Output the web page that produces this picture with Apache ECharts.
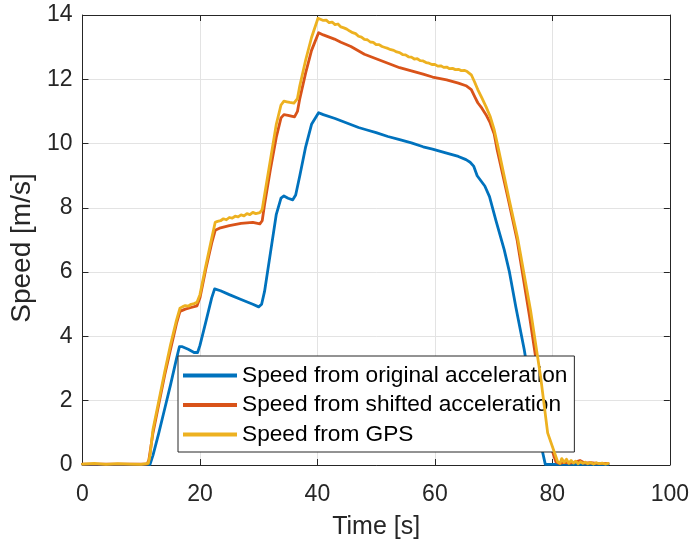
<!DOCTYPE html>
<html>
<head>
<meta charset="utf-8">
<script src="https://cdn.jsdelivr.net/npm/echarts@6/dist/echarts.min.js"></script>
<style>
  html, body { margin: 0; padding: 0; background: #fff; }
  #chart { width: 692px; height: 545px; }
</style>
</head>
<body>
<div id="chart"></div>
<script>
// Speed traces over time [s] -> [m/s]
const seriesNames = [
  'Speed from original acceleration',
  'Speed from shifted acceleration',
  'Speed from GPS'
];
const xTicks = [0, 20, 40, 60, 80, 100];
const yTicks = [0, 2, 4, 6, 8, 10, 12, 14];

const timeOriginal = [0, 5, 11.5, 12, 13, 14, 15, 16, 16.5, 17, 18, 19, 19.6, 20, 21, 22, 22.5, 23.5, 25, 27, 29, 30, 30.5, 31, 32, 33, 33.8, 34.3, 35, 35.8, 36.3, 37, 38, 39, 40.2, 41, 43, 45, 47, 48.3, 50, 52, 54, 56, 58, 59.6, 62, 64, 65.3, 66, 66.6, 67.2, 67.8, 68.5, 69.3, 70.4, 71.8, 72.7, 73.8, 75.2, 76.6, 78.1, 78.8, 81, 85, 89.5];
const speedOriginal = [0.02, 0.02, 0.02, 0.3, 1.0, 1.75, 2.5, 3.3, 3.68, 3.68, 3.6, 3.5, 3.5, 3.72, 4.45, 5.2, 5.48, 5.42, 5.3, 5.15, 5.0, 4.92, 5.0, 5.4, 6.6, 7.8, 8.3, 8.37, 8.3, 8.25, 8.4, 9.0, 9.9, 10.6, 10.96, 10.9, 10.78, 10.64, 10.5, 10.43, 10.34, 10.22, 10.12, 10.02, 9.9, 9.83, 9.7, 9.6, 9.5, 9.42, 9.3, 9.0, 8.85, 8.68, 8.35, 7.6, 6.7, 6.0, 4.9, 3.6, 2.05, 0.6, 0.02, 0.02, 0.02, 0.02];

const timeShifted = [0, 5, 11, 11.3, 12, 13, 14, 15, 16, 16.6, 17.5, 18.5, 19.5, 20, 21, 22, 22.6, 23.5, 25, 27, 29, 30.2, 30.6, 31, 32, 33, 33.8, 34.3, 35, 36.1, 36.6, 37, 38, 39, 40.2, 41, 42.9, 44, 45.7, 48, 50, 52, 54, 56, 58, 59.6, 62, 64, 65.3, 66.2, 66.8, 67.3, 68, 68.7, 69.4, 70.1, 70.6, 72.5, 74, 76.1, 77.8, 79, 80.6, 81.2, 82, 83, 84, 84.7, 85.5, 86.5, 88, 89.5];
const speedShifted = [0.03, 0.03, 0.03, 0.15, 1.0, 1.9, 2.8, 3.6, 4.4, 4.78, 4.85, 4.9, 4.95, 5.2, 6.1, 6.9, 7.3, 7.38, 7.45, 7.52, 7.55, 7.5, 7.6, 8.1, 9.2, 10.2, 10.8, 10.9, 10.88, 10.83, 11.0, 11.4, 12.2, 12.9, 13.45, 13.38, 13.25, 13.15, 13.02, 12.78, 12.64, 12.5, 12.36, 12.26, 12.16, 12.07, 11.98, 11.88, 11.8, 11.68, 11.45, 11.27, 11.1, 10.9, 10.65, 10.3, 9.81, 8.26, 7.0, 4.64, 2.57, 1.0, 0.1, 0.05, 0.08, 0.06, 0.1, 0.14, 0.06, 0.07, 0.04, 0.05];

const timeGps = [0, 2, 4, 6, 8, 10, 11.2, 11.5, 12, 13, 14, 15, 16, 16.6, 17, 17.5, 18, 18.5, 19, 19.5, 20, 21, 22, 22.6, 23, 23.5, 24, 24.5, 25, 25.5, 26, 26.5, 27, 27.5, 28, 28.5, 29, 29.5, 30.2, 30.6, 31, 32, 33, 33.8, 34.3, 34.8, 35.3, 36, 36.6, 37, 38, 39, 40.1, 40.5, 41, 41.5, 42, 42.5, 43, 43.5, 44, 44.5, 45, 45.5, 46, 46.5, 47, 47.5, 48, 48.5, 49, 49.5, 50, 50.5, 51, 51.5, 52, 52.5, 53, 53.5, 54, 54.5, 55, 55.5, 56, 56.5, 57, 57.5, 58, 58.5, 59, 59.5, 60, 60.5, 61, 61.5, 62, 62.5, 63, 63.5, 64, 64.5, 65, 65.5, 66.2, 66.8, 67.3, 68, 68.7, 69.4, 70.1, 70.8, 72.6, 74.1, 76.3, 78, 79.2, 80.9, 81.3, 81.6, 82, 82.4, 82.8, 83.2, 83.6, 84, 84.4, 84.8, 85.2, 85.6, 86, 86.5, 87, 87.5, 88, 88.5, 89, 89.5];
const speedGps = [0.03, 0.05, 0.02, 0.04, 0.03, 0.02, 0.05, 0.3, 1.1, 2.0, 2.9, 3.75, 4.5, 4.88, 4.92, 4.96, 4.94, 5.0, 5.02, 5.06, 5.3, 6.2, 7.05, 7.55, 7.58, 7.6, 7.66, 7.63, 7.7, 7.68, 7.74, 7.72, 7.78, 7.75, 7.82, 7.79, 7.86, 7.82, 7.85, 7.95, 8.4, 9.5, 10.6, 11.2, 11.32, 11.3, 11.28, 11.26, 11.4, 11.8, 12.6, 13.3, 13.9, 13.87, 13.83, 13.84, 13.76, 13.78, 13.7, 13.72, 13.63, 13.6, 13.56, 13.5, 13.45, 13.42, 13.34, 13.31, 13.24, 13.23, 13.16, 13.15, 13.08, 13.08, 13.02, 12.99, 12.96, 12.92, 12.9, 12.85, 12.83, 12.77, 12.76, 12.7, 12.69, 12.63, 12.64, 12.58, 12.57, 12.52, 12.5, 12.46, 12.46, 12.41, 12.42, 12.37, 12.38, 12.33, 12.34, 12.3, 12.31, 12.27, 12.28, 12.24, 12.14, 11.9, 11.68, 11.42, 11.15, 10.85, 10.43, 9.85, 8.3, 7.05, 4.8, 2.75, 1.0, 0.1, 0.05, 0.2, 0.08, 0.18, 0.05, 0.14, 0.06, 0.12, 0.04, 0.1, 0.05, 0.09, 0.04, 0.08, 0.03, 0.07, 0.04, 0.06, 0.03, 0.05];

const lineColors = ['#0072BD', '#D95319', '#EDB120'];

function pairs(ts, vs) {
  return ts.map((t, i) => [t, vs[i]]);
}

const FONT = '"Liberation Sans", Arial, Helvetica, sans-serif';
const AXIS_COLOR = '#262626';
const GRID_COLOR = '#e3e3e3';

const chart = echarts.init(document.getElementById('chart'), null, { renderer: 'canvas' });

const frameAxis = {
  axisLine: { show: true, onZero: false, lineStyle: { color: AXIS_COLOR, width: 1 } },
  axisTick: { show: true, inside: true, length: 6, lineStyle: { color: AXIS_COLOR, width: 1 } },
  axisLabel: { show: false },
  splitLine: { show: false }
};

chart.setOption({
  animation: false,
  backgroundColor: '#ffffff',
  textStyle: { fontFamily: FONT },
  grid: { left: 82, top: 15, width: 589, height: 451, containLabel: false },
  legend: {
    orient: 'vertical',
    left: 178,
    top: 356,
    padding: [8, 7, 6, 5],
    itemGap: 6.5,
    itemWidth: 54,
    itemHeight: 4,
    icon: 'rect',
    backgroundColor: '#ffffff',
    borderColor: AXIS_COLOR,
    borderWidth: 1,
    borderRadius: 0,
    textStyle: { fontFamily: FONT, fontSize: 22.7, color: '#000000', lineHeight: 22 },
    data: seriesNames
  },
  xAxis: [
    {
      type: 'value', min: 0, max: 100, interval: 20,
      name: 'Time [s]', nameLocation: 'middle', nameGap: 50,
      nameTextStyle: { fontFamily: FONT, fontSize: 25, color: AXIS_COLOR },
      axisLine: { show: true, onZero: false, lineStyle: { color: AXIS_COLOR, width: 1 } },
      axisTick: { show: true, inside: true, length: 6, lineStyle: { color: AXIS_COLOR, width: 1 } },
      axisLabel: {
        fontFamily: FONT, fontSize: 23, color: AXIS_COLOR, margin: 18,
        formatter: v => (xTicks.includes(v) ? String(v) : '')
      },
      splitLine: { show: true, lineStyle: { color: GRID_COLOR, width: 1 } }
    },
    Object.assign({ type: 'value', position: 'top', min: 0, max: 100, interval: 20 }, frameAxis)
  ],
  yAxis: [
    {
      type: 'value', min: 0, max: 14, interval: 2,
      name: 'Speed [m/s]', nameLocation: 'middle', nameGap: 43,
      nameTextStyle: { fontFamily: FONT, fontSize: 28, color: AXIS_COLOR, padding: [0, 16, 0, 0] },
      axisLine: { show: true, onZero: false, lineStyle: { color: AXIS_COLOR, width: 1 } },
      axisTick: { show: true, inside: true, length: 6, lineStyle: { color: AXIS_COLOR, width: 1 } },
      axisLabel: {
        fontFamily: FONT, fontSize: 23, color: AXIS_COLOR, margin: 10,
        formatter: v => (yTicks.includes(v) ? String(v) : '')
      },
      splitLine: { show: true, lineStyle: { color: GRID_COLOR, width: 1 } }
    },
    Object.assign({ type: 'value', position: 'right', min: 0, max: 14, interval: 2 }, frameAxis)
  ],
  series: [
    [timeOriginal, speedOriginal],
    [timeShifted, speedShifted],
    [timeGps, speedGps]
  ].map(([ts, vs], i) => ({
    name: seriesNames[i],
    type: 'line',
    xAxisIndex: 0,
    yAxisIndex: 0,
    data: pairs(ts, vs),
    showSymbol: false,
    symbol: 'none',
    clip: true,
    itemStyle: { color: lineColors[i] },
    lineStyle: { color: lineColors[i], width: 2.8, cap: 'round', join: 'round' },
    z: 2 + i
  }))
});
</script>
</body>
</html>
